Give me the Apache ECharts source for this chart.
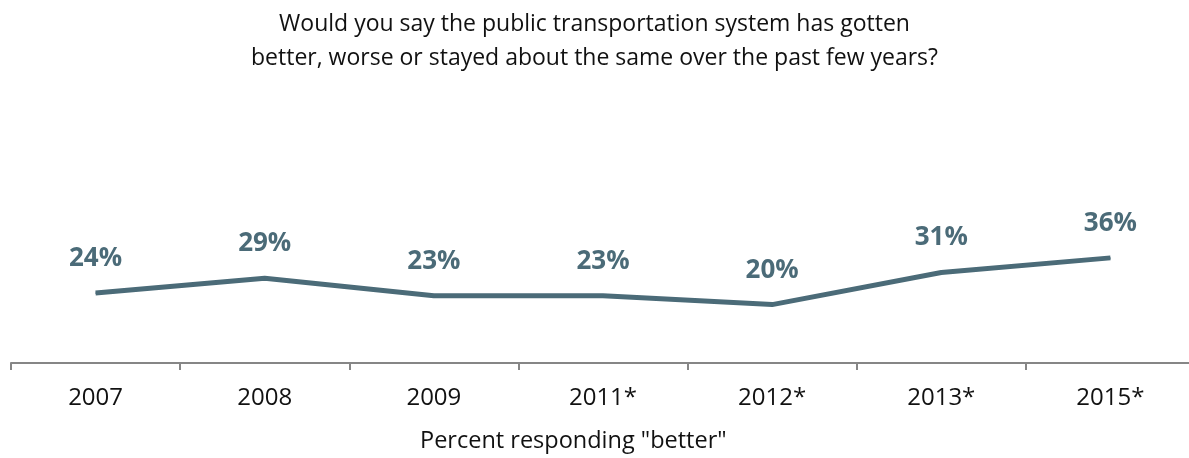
<!DOCTYPE html>
<html>
<head>
<meta charset="utf-8">
<script src="https://cdn.jsdelivr.net/npm/echarts@6/dist/echarts.min.js"></script>
<style>
  html, body { margin: 0; padding: 0; background: #ffffff; }
  #chart { width: 1189px; height: 458px; }
</style>
</head>
<body>
<div id="chart"></div>
<script>
// Survey years and share answering "better"
const years = ['2007', '2008', '2009', '2011*', '2012*', '2013*', '2015*'];
const betterPct = [24, 29, 23, 23, 20, 31, 36];

const titleLines = [
  'Would you say the public transportation system has gotten',
  'better, worse or stayed about the same over the past few years?'
];
const footnote = 'Percent responding "better"';

const FONT = '"Open Sans", Lato, sans-serif';
const LINE_COLOR = '#4b6b78';

const chart = echarts.init(document.getElementById('chart'), null, { renderer: 'canvas' });

chart.setOption({
  animation: false,
  backgroundColor: '#ffffff',
  title: {
    text: titleLines.join('\n'),
    left: 'center',
    top: 2,
    textStyle: {
      fontFamily: FONT,
      fontSize: 23,
      fontWeight: 'normal',
      color: '#111111',
      lineHeight: 34
    }
  },
  graphic: [{
    type: 'text',
    left: 420,
    top: 429,
    style: {
      text: footnote,
      font: '23.5px ' + FONT,
      fill: '#111111'
    }
  }],
  grid: { left: 11, width: 1184, top: 71, bottom: 95, outerBoundsMode: 'none' },
  xAxis: {
    type: 'category',
    data: years,
    boundaryGap: true,
    axisLine: { lineStyle: { color: '#868686', width: 2 } },
    axisTick: { show: true, length: 7, lineStyle: { color: '#868686', width: 2 } },
    axisLabel: {
      fontFamily: FONT,
      fontSize: 24,
      color: '#111111',
      margin: 23
    }
  },
  yAxis: {
    type: 'value',
    min: 0,
    max: 100,
    show: false,
    splitLine: { show: false }
  },
  series: [{
    type: 'line',
    data: betterPct,
    symbol: 'circle',
    symbolSize: 1,
    itemStyle: { color: LINE_COLOR },
    lineStyle: { color: LINE_COLOR, width: 5 },
    label: {
      show: true,
      position: 'top',
      distance: 21,
      formatter: '{c}%',
      fontFamily: FONT,
      fontSize: 26,
      fontWeight: 'bold',
      color: LINE_COLOR
    }
  }]
});
</script>
</body>
</html>
